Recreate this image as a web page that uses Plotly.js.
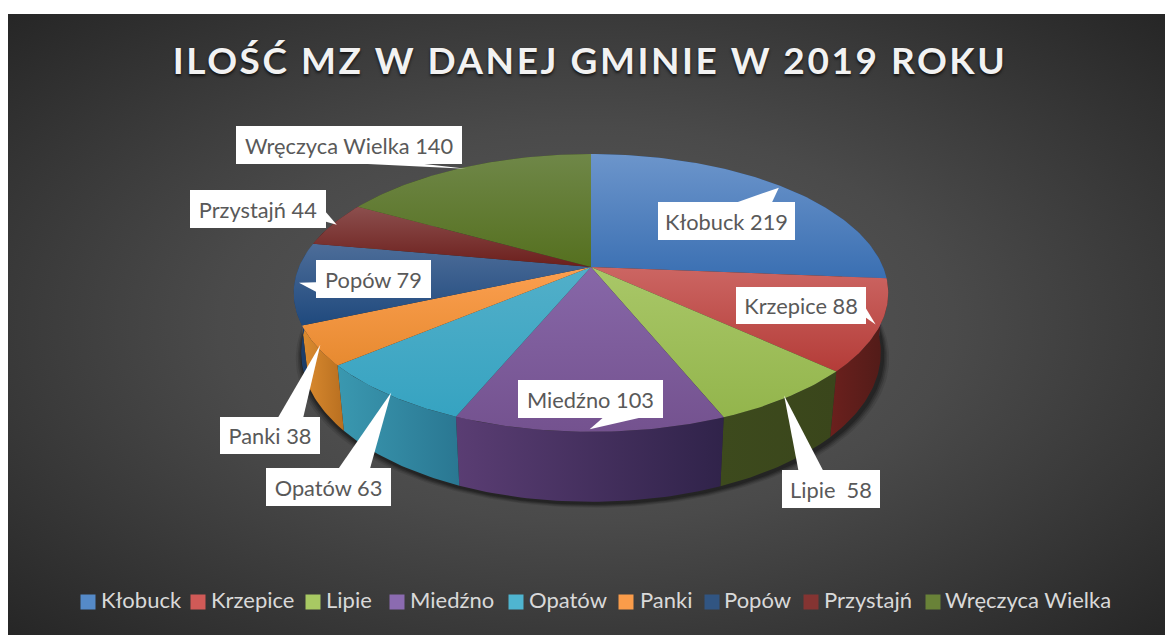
<!DOCTYPE html>
<html>
<head>
<meta charset="utf-8">
<script src="https://cdn.plot.ly/plotly-3.0.1.min.js"></script>
<style>
html,body{margin:0;padding:0;background:#fff;width:1165px;height:635px;overflow:hidden}
#bg{position:absolute;left:8px;top:14px;width:1157px;height:621px;background:radial-gradient(ellipse farthest-corner at 50% 50%,#5c5c5c 0%,#4a4a4a 45%,#262626 100%)}
#chart{position:absolute;left:0;top:0;width:1165px;height:635px}
.gtitle{letter-spacing:2.55px}
</style>
</head>
<body>
<div id="bg"></div>
<div id="chart"></div>
<script>
const titleText = 'ILOŚĆ MZ W DANEJ GMINIE W 2019 ROKU';
const categories = ['Kłobuck','Krzepice','Lipie','Miedźno','Opatów','Panki','Popów','Przystajń','Wręczyca Wielka'];
const values = [219,88,58,103,63,38,79,44,140];
const labelTexts = ['Kłobuck 219','Krzepice 88','Lipie\u00a0 58','Miedźno 103','Opatów 63','Panki 38','Popów 79','Przystajń 44','Wręczyca Wielka 140'];

// styles
const topTop = ['#6c95cb','#cc6663','#a9c768','#8767a8','#52afc9','#fb9f50','#4d6d99','#8c4f4e','#6f8748'];
const topBot = ['#3a6fb2','#b43c38','#93b54c','#74528f','#36a3c1','#e78a30','#1f497d','#6c1f1c','#55701f'];
const sideL  = ['#274a78','#6b201d','#3d4a1d','#5a3d73','#3a98b0','#dc8c30','#1c3d69','#521614','#38491a'];
const sideR  = ['#27497a','#4f1b18','#3a461b','#30234a','#2a7792','#b86f20','#1c3d69','#521614','#38491a'];
const swatch = ['#558ac8','#d05a57','#a8c963','#8b6bb0','#4fb5d0','#fa9c4a','#315582','#843432','#698238'];
// label box [left, top, right, bottom]
const boxes = [[658,202,795,240],[736,287,866,324],[782,470,880,508],[518,380,663,418],[266,468,391,506],[220,417,320,454],[316,260,431,298],[190,190,326,228],[236,126,462,164]];
const legendX = [88,198,313,397,516,626,712,811,933];
const legendTextX = [101,211,326,410,529,640,724,824,945];
const legendY = 602;

// pie projection
const CX=591, CY=267, A=134, B=292, K=0.187;
const total = values.reduce((a,b)=>a+b,0);
function proj(deg,r){ const t=deg*Math.PI/180, d=Math.cos(t), s=Math.sin(t), w=1+K*d;
  return [CX+r*B*s/w, CY-r*A*d/w, d]; }
function low(deg,r){ const p=proj(deg,r); return [CX+(p[0]-CX)*0.975, p[1]+57-13*p[2]]; }
function range(a,b){ const o=[]; const n=Math.max(2,Math.ceil(Math.abs(b-a))); for(let i=0;i<=n;i++) o.push(a+(b-a)*i/n); return o; }

const starts=[]; let acc=0; values.forEach(v=>{starts.push(acc/total*360); acc+=v;});
const ends=starts.map((s,i)=>s+values[i]/total*360);

const traces=[];
// ground shadow
[[7,6,.10],[5,5,.14],[3.5,4,.18],[2,3,.22]].forEach(sh=>{
  const pts=range(0,360).map(a=>low(a,1));
  traces.push({x:pts.map(p=>CX+(p[0]-CX)*(1+sh[0]/295)+1.5),y:pts.map(p=>p[1]+sh[1]),mode:'lines',line:{width:0},fill:'toself',fillcolor:`rgba(0,0,0,${sh[2]})`,hoverinfo:'skip',showlegend:false});
});
// sides
categories.forEach((c,i)=>{
  const arc=range(starts[i],ends[i]);
  const t=arc.map(a=>proj(a,1)), b=arc.map(a=>low(a,1)).reverse();
  const xs=t.map(p=>p[0]).concat(b.map(p=>p[0])), ys=t.map(p=>p[1]).concat(b.map(p=>p[1]));
  traces.push({x:xs,y:ys,mode:'lines',line:{width:0},fill:'toself',
    fillgradient:{type:'horizontal',colorscale:[[0,sideL[i]],[1,sideR[i]]]},hoverinfo:'skip',showlegend:false});
});
// tops
categories.forEach((c,i)=>{
  const t=range(starts[i],ends[i]).map(a=>proj(a,1));
  const xs=[CX].concat(t.map(p=>p[0]),[CX]), ys=[CY].concat(t.map(p=>p[1]),[CY]);
  traces.push({x:xs,y:ys,name:c,mode:'lines',line:{width:0},fill:'toself',
    fillgradient:{type:'vertical',colorscale:[[0,topBot[i]],[1,topTop[i]]]},hoverinfo:'skip',showlegend:false});
});
// callout tails
categories.forEach((c,i)=>{
  const tip=proj((starts[i]+ends[i])/2,0.985), [l,u,r,d]=boxes[i], w=r-l, h=d-u;
  const mx=(l+r)/2, my=(u+d)/2, dx=tip[0]-mx, dy=tip[1]-my;
  let xs,ys;
  if(Math.abs(dy)/h>Math.abs(dx)/w){
    const e=dy>0?d:u, f=dx>=-1?[7/12,10/12]:[2/12,5/12];
    xs=[l+w*f[0],tip[0],l+w*f[1]]; ys=[e,tip[1],e];
  } else {
    const e=dx>0?r:l, f=dy>=0?[7/12,10/12]:[2/12,5/12];
    xs=[e,tip[0],e]; ys=[u+h*f[0],tip[1],u+h*f[1]];
  }
  traces.push({x:xs.concat(xs[0]),y:ys.concat(ys[0]),mode:'lines',line:{width:0},fill:'toself',fillcolor:'#ffffff',hoverinfo:'skip',showlegend:false});
});
// legend row
traces.push({x:legendX,y:legendX.map(()=>legendY),mode:'markers',
  marker:{symbol:'square',size:15,color:swatch},hoverinfo:'skip',showlegend:false});
traces.push({x:legendTextX,y:legendX.map(()=>legendY),mode:'text',text:categories,textposition:'middle right',
  textfont:{family:'Lato, sans-serif',size:22,color:'#d9d9d9'},hoverinfo:'skip',showlegend:false});

const annotations=labelTexts.map((t,i)=>{const [l,u,r,d]=boxes[i];return {
  x:(l+r)/2,y:(u+d)/2,xref:'x',yref:'y',text:t,showarrow:false,width:r-l,height:d-u,bgcolor:'#ffffff',borderpad:0,borderwidth:0,
  font:{family:'Lato, sans-serif',size:21.8,color:'#595959'},align:'center',valign:'middle',xanchor:'center',yanchor:'middle'};});

const layout={
  width:1165,height:635,margin:{l:0,r:0,t:0,b:0,pad:0},
  paper_bgcolor:'rgba(0,0,0,0)',plot_bgcolor:'rgba(0,0,0,0)',showlegend:false,
  title:{text:titleText,x:0.5065,xanchor:'center',y:0.904,yanchor:'middle',font:{family:'Lato, sans-serif',size:37,weight:700,color:'#f2f2f2',shadow:'0px 2px 3px rgba(0,0,0,0.7)'}},
  xaxis:{visible:false,range:[0,1165],fixedrange:true},
  yaxis:{visible:false,range:[635,0],fixedrange:true},
  annotations:annotations
};
Plotly.newPlot('chart',traces,layout,{displayModeBar:false,staticPlot:true});
</script>
</body>
</html>
